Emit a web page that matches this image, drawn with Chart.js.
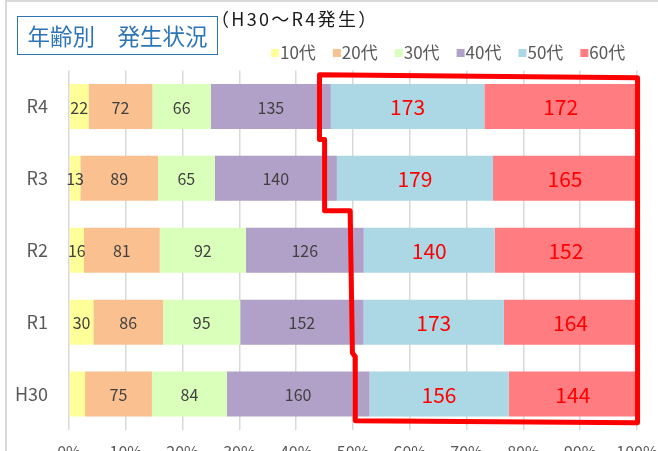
<!DOCTYPE html>
<html><head><meta charset="utf-8">
<script src="https://cdn.jsdelivr.net/npm/chart.js@4"></script>
<style>
html,body{margin:0;padding:0;background:#fff;overflow:hidden;width:658px;height:451px;}
#wrap{position:relative;width:658px;height:451px;overflow:hidden;}
#frame{position:absolute;left:5px;top:0px;width:700px;height:520px;border:2px solid #D9D9D9;box-sizing:border-box;}
#cv{position:absolute;left:0;top:0;}
#title{position:absolute;left:17px;top:16px;width:201px;height:39px;border:1px solid #2E75B6;box-sizing:border-box;color:#2E75B6;font-family:"Noto Sans CJK JP";font-size:22.5px;line-height:37px;text-align:center;white-space:nowrap;}
#sub{position:absolute;left:211px;top:5px;font-family:"Noto Sans CJK JP";font-size:18px;line-height:26px;letter-spacing:2.3px;color:#1a1a1a;white-space:nowrap;}
</style></head>
<body>
<div id="wrap">
<div id="frame"></div>
<canvas id="cv" width="658" height="470"></canvas>
<div id="title">年齢別　発生状況</div>
<div id="sub">（H30～R4発生）</div>
</div>
<script>
// ---- data ----
const categories = ['R4', 'R3', 'R2', 'R1', 'H30'];
const seriesNames = ['10代', '20代', '30代', '40代', '50代', '60代'];
const age10 = [22, 13, 16, 30, 18];
const age20 = [72, 89, 81, 86, 75];
const age30 = [66, 65, 92, 95, 84];
const age40 = [135, 140, 126, 152, 160];
const age50 = [173, 179, 140, 173, 156];
const age60 = [172, 165, 152, 164, 144];
const xTickLabels = ['0%', '10%', '20%', '30%', '40%', '50%', '60%', '70%', '80%', '90%', '100%'];
const hiddenLabels = [['H30', '10代']];
// highlight outline in scale units: [percent, category index]
const highlightOutline = [[44.1, -0.44], [44.1, 0.46], [45.0, 0.46], [45.0, 1.45], [49.5, 1.45], [49.9, 3.43], [50.4, 3.48], [50.4, 4.37], [100.1, 4.40], [100.1, -0.40]];

// ---- styles ----
const colors = ['#FFFF99', '#FAC090', '#DAFFBA', '#B1A0C7', '#ABD8E4', '#FF7C80'];
const FONT = '"Noto Sans CJK JP"';

const seriesValues = [age10, age20, age30, age40, age50, age60];
const totals = categories.map((c, i) => seriesValues.reduce((s, arr) => s + arr[i], 0));

const datasets = seriesNames.map((name, si) => ({
  label: name,
  data: seriesValues[si].map((v, i) => v / totals[i] * 100),
  counts: seriesValues[si],
  backgroundColor: colors[si],
  borderWidth: 0,
  barPercentage: 0.626,
  categoryPercentage: 1
}));

const labelPlugin = {
  id: 'segLabels',
  afterDatasetsDraw(chart) {
    const ctx = chart.ctx;
    ctx.save();
    ctx.textAlign = 'center';
    ctx.textBaseline = 'middle';
    chart.data.datasets.forEach((ds, di) => {
      const meta = chart.getDatasetMeta(di);
      const big = di >= 4;
      ctx.font = (big ? '21px ' : '16px ') + FONT;
      ctx.fillStyle = big ? '#FF0000' : '#404040';
      meta.data.forEach((bar, i) => {
        if (hiddenLabels.some(h => h[0] === categories[i] && h[1] === ds.label)) return;
        const p = bar.getProps(['x', 'y', 'base'], true);
        ctx.fillText(String(ds.counts[i]), (p.x + p.base) / 2, p.y + 1);
      });
    });
    ctx.restore();
  }
};

const outlinePlugin = {
  id: 'outline',
  afterDraw(chart) {
    const ctx = chart.ctx, xs = chart.scales.x, ys = chart.scales.y;
    ctx.save();
    ctx.strokeStyle = '#FF0000';
    ctx.lineWidth = 5;
    ctx.lineJoin = 'round';
    ctx.beginPath();
    highlightOutline.forEach((pt, k) => {
      const px = xs.getPixelForValue(pt[0]);
      const py = ys.getPixelForValue(pt[1]);
      if (k === 0) ctx.moveTo(px, py); else ctx.lineTo(px, py);
    });
    ctx.closePath();
    ctx.stroke();
    ctx.restore();
  }
};

const legendPlugin = {
  id: 'myLegend',
  afterDraw(chart) {
    const ctx = chart.ctx;
    ctx.save();
    ctx.font = '17px ' + FONT;
    ctx.textBaseline = 'middle';
    ctx.textAlign = 'left';
    let x = 271;
    const yc = 53;
    chart.data.datasets.forEach(ds => {
      ctx.fillStyle = ds.backgroundColor;
      ctx.fillRect(x, yc - 4, 8, 8);
      ctx.fillStyle = '#595959';
      ctx.fillText(ds.label, x + 9, yc);
      x += 9 + ctx.measureText(ds.label).width + 17;
    });
    ctx.restore();
  }
};

Chart.defaults.font.family = FONT;

new Chart(document.getElementById('cv'), {
  type: 'bar',
  data: { labels: categories, datasets },
  options: {
    indexAxis: 'y',
    responsive: false,
    animation: false,
    devicePixelRatio: 1,
    layout: { padding: { left: 0, right: 21, top: 70.5, bottom: 0 } },
    plugins: { legend: { display: false }, tooltip: { enabled: false } },
    scales: {
      x: {
        stacked: true, min: 0, max: 100,
        afterFit(s) { s.height = 40; s.paddingLeft = 0; s.paddingRight = 0; },
        grid: { color: '#D9D9D9', lineWidth: 1.5, drawTicks: false },
        border: { display: false },
        ticks: {
          stepSize: 10, padding: 12, color: '#595959', font: { size: 16 },
          callback: (v, idx) => xTickLabels[idx]
        }
      },
      y: {
        stacked: true,
        afterFit(s) { s.width = 69; s.paddingTop = 0; s.paddingBottom = 0; },
        grid: { display: false, drawTicks: false },
        border: { display: false },
        ticks: { padding: 21, color: '#595959', font: { size: 18 } }
      }
    }
  },
  plugins: [labelPlugin, outlinePlugin, legendPlugin]
});
</script>
</body></html>
